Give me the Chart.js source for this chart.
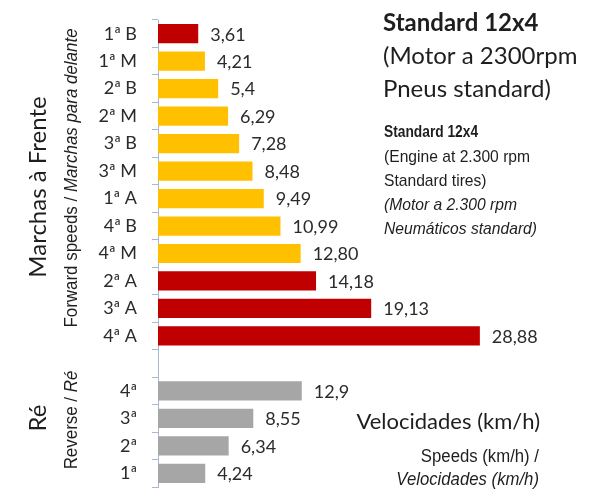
<!DOCTYPE html>
<html><head><meta charset="utf-8">
<script src="https://cdn.jsdelivr.net/npm/chart.js@4.4.0/dist/chart.umd.min.js"></script>
<style>html,body{margin:0;padding:0;background:#fff;}#wrap{width:596px;height:490px;}</style>
</head><body><div id="wrap"><canvas id="c" width="596" height="490"></canvas></div>
<script>
const categories = ["1ª B","1ª M","2ª B","2ª M","3ª B","3ª M","1ª A","4ª B","4ª M","2ª A","3ª A","4ª A","","4ª","3ª","2ª","1ª"];
const speeds = [3.61,4.21,5.4,6.29,7.28,8.48,9.49,10.99,12.80,14.18,19.13,28.88,null,12.9,8.55,6.34,4.24];
const valueLabels = ["3,61","4,21","5,4","6,29","7,28","8,48","9,49","10,99","12,80","14,18","19,13","28,88","","12,9","8,55","6,34","4,24"];
const barColors = ["#C00000","#FFC000","#FFC000","#FFC000","#FFC000","#FFC000","#FFC000","#FFC000","#FFC000","#C00000","#C00000","#C00000","#fff","#A6A6A6","#A6A6A6","#A6A6A6","#A6A6A6"];

const SANS = 'Lato, "Open Sans", sans-serif';
const NARROW = '"Liberation Sans", Arial, sans-serif';

function txt(ctx, s, x, y, font, sx, align) {
  ctx.save();
  ctx.font = font;
  ctx.textBaseline = 'middle';
  ctx.textAlign = 'left';
  const w = ctx.measureText(s).width * sx;
  let x0 = x;
  if (align === 'right') x0 = x - w;
  ctx.translate(x0, y);
  ctx.scale(sx, 1);
  ctx.fillText(s, 0, 0);
  ctx.restore();
}

const textPlugin = {
  id:'texts',
  afterDatasetsDraw(chart){
    const ctx = chart.ctx;
    const meta = chart.getDatasetMeta(0);
    ctx.save();
    ctx.fillStyle = '#2b2b2b';
    meta.data.forEach((bar,i)=>{
      if(speeds[i]==null) return;
      txt(ctx, valueLabels[i], bar.x + 12, bar.y + 1, '18px ' + SANS, 1, 'left');
    });
    ctx.fillStyle = '#1e1e1e';
    txt(ctx, 'Standard 12x4', 383, 23, 'bold 24px ' + SANS, 1, 'left');
    txt(ctx, '(Motor a 2300rpm', 383, 56, '24px ' + SANS, 1, 'left');
    txt(ctx, 'Pneus standard)', 383, 89, '24px ' + SANS, 1, 'left');
    txt(ctx, 'Standard 12x4', 384, 133, 'bold 16px ' + NARROW, 0.86, 'left');
    txt(ctx, '(Engine at 2.300 rpm', 384, 157, '17px ' + NARROW, 0.92, 'left');
    txt(ctx, 'Standard tires)', 384, 181, '17px ' + NARROW, 0.92, 'left');
    txt(ctx, '(Motor a 2.300 rpm', 384, 205, 'italic 17px ' + NARROW, 0.92, 'left');
    txt(ctx, 'Neumáticos standard)', 384, 229, 'italic 17px ' + NARROW, 0.92, 'left');
    txt(ctx, 'Velocidades (km/h)', 540, 422, '22px ' + SANS, 1, 'right');
    txt(ctx, 'Speeds (km/h) /', 539, 457, '18px ' + NARROW, 0.93, 'right');
    txt(ctx, 'Velocidades (km/h)', 539, 480, 'italic 18px ' + NARROW, 0.93, 'right');

    const rot = (parts, x, y, sx) => {
      ctx.save();
      ctx.translate(x, y);
      ctx.rotate(-Math.PI/2);
      ctx.textBaseline = 'middle';
      ctx.textAlign = 'left';
      let total = 0;
      parts.forEach(p=>{ctx.font=p[1]; total += ctx.measureText(p[0]).width;});
      ctx.scale(sx, 1);
      let cx = -total/2;
      parts.forEach(p=>{ctx.font=p[1]; ctx.fillText(p[0], cx, 0); cx += ctx.measureText(p[0]).width;});
      ctx.restore();
    };
    rot([['Marchas à Frente','24px '+SANS]], 38, 187, 1);
    rot([['Forward speeds / ','18px '+NARROW],['Marchas para delante','italic 18px '+NARROW]], 72, 178, 0.94);
    rot([['Ré','24px '+SANS]], 38, 418, 1);
    rot([['Reverse / ','18px '+NARROW],['Ré','italic 18px '+NARROW]], 72, 420, 0.94);
    ctx.restore();
  }
};

new Chart(document.getElementById('c'), {
  type:'bar',
  data:{labels:categories, datasets:[{data:speeds, backgroundColor:barColors, barPercentage:0.7, categoryPercentage:1}]},
  options:{
    indexAxis:'y', responsive:false, animation:false,
    layout:{padding:{top:20,bottom:3,left:0,right:0}},
    plugins:{legend:{display:false}, tooltip:{enabled:false}},
    scales:{
      x:{display:false, min:0, max:39.3},
      y:{
        afterFit(s){ s.width = 158; s.paddingTop = 0; s.paddingBottom = 0; },
        border:{display:true, color:'#A9B8CC', width:1},
        grid:{display:true, drawOnChartArea:false, tickLength:6, color:'#A9B8CC', offset:true},
        ticks:{color:'#2b2b2b', padding:15, font:{family:SANS, size:18}}
      }
    }
  },
  plugins:[textPlugin]
});
</script></body></html>
